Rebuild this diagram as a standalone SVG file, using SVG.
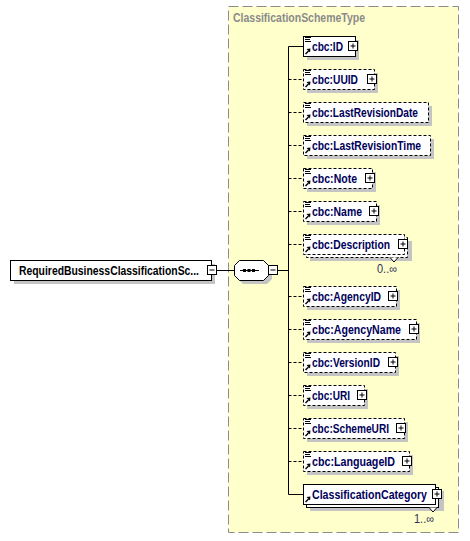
<svg xmlns="http://www.w3.org/2000/svg" xmlns:xlink="http://www.w3.org/1999/xlink" width="470" height="541" viewBox="0 0 470 541">
<style>
.bg{fill:#ffffcc;stroke:#8c8c8c;stroke-dasharray:10,4}
.title{font-family:'Liberation Sans',Arial,sans-serif;font-size:12px;font-weight:bold;fill:#8a8a8a}
.box{fill:#fff;stroke:#000}
.opt{stroke-dasharray:3,2}
.sh{fill:#c4c4c4}
.name{font-family:'Liberation Sans',Arial,sans-serif;font-size:12px;font-weight:bold;fill:#00005a}
.root{font-family:'Liberation Sans',Arial,sans-serif;font-size:12px;font-weight:bold;fill:#000}
.occ{font-family:'Liberation Sans',Arial,sans-serif;font-size:12px;fill:#30305a}
.conn{stroke:#000;fill:none}
.dash{stroke-dasharray:3,2}
</style>
<defs>
<g id="lines"><path d="M2,-8.5h6M2,-6.5h5M2,-4.5h6" stroke="#000" fill="none"/></g>
<g id="arrow"><path d="M2.5,8 L5.5,5" stroke="#000" stroke-width="1.4"/><path d="M7.5,2.5 L3.5,3 L7,6.5Z" fill="#000"/></g>
<g id="plus"><rect x="0.5" y="0.5" width="9" height="9" fill="#fff" stroke="#000"/><path d="M2.5,5h5M5,2.5v5" stroke="#000"/></g>
<g id="minus"><rect x="0.5" y="0.5" width="9" height="9" fill="#fff" stroke="#000"/><path d="M2.5,5h5" stroke="#000"/></g>
</defs>

<rect class="bg" x="228.5" y="6.5" width="230" height="526"/>
<text class="title" x="233" y="21.5" textLength="132" lengthAdjust="spacingAndGlyphs">ClassificationSchemeType</text>

<g id="connectors">
<path class="conn" d="M217,270.5 H234.5"/>
<path class="conn" d="M278,270.5 H288.5"/>
<path class="conn" d="M288.5,46.5 V494.5"/>
<path class="conn" d="M288.5,46.5 H303.5"/>
<path class="conn dash" d="M288.5,79.5 H303.5"/>
<path class="conn dash" d="M288.5,112.5 H303.5"/>
<path class="conn dash" d="M288.5,145.5 H303.5"/>
<path class="conn dash" d="M288.5,178.5 H303.5"/>
<path class="conn dash" d="M288.5,211.5 H303.5"/>
<path class="conn dash" d="M288.5,244.5 H303.5"/>
<path class="conn dash" d="M288.5,296.5 H303.5"/>
<path class="conn dash" d="M288.5,329.5 H303.5"/>
<path class="conn dash" d="M288.5,362.5 H303.5"/>
<path class="conn dash" d="M288.5,395.5 H303.5"/>
<path class="conn dash" d="M288.5,428.5 H303.5"/>
<path class="conn dash" d="M288.5,461.5 H303.5"/>
<path class="conn" d="M288.5,494.5 H303.5"/>
</g>

<g id="root">
<rect class="sh" x="14" y="264" width="201" height="20"/>
<rect class="box" x="10.5" y="260.5" width="201" height="20"/>
<text class="root" x="19" y="275" textLength="180" lengthAdjust="spacingAndGlyphs">RequiredBusinessClassificationSc...</text>
<use xlink:href="#minus" x="207" y="265"/>
</g>

<g id="sequence">
<path class="sh" d="M243,264 H267 L272,269 V279 L267,284 H243 L238,279 V269 Z"/>
<path class="box" d="M239.5,260.5 H263.5 L268.5,265.5 V275.5 L263.5,280.5 H239.5 L234.5,275.5 V265.5 Z"/>
<path d="M240,270.5 H259" stroke="#000"/>
<rect x="243" y="269" width="3" height="3" fill="#000"/>
<rect x="247.5" y="269" width="3" height="3" fill="#000"/>
<rect x="252" y="269" width="3" height="3" fill="#000"/>
<use xlink:href="#minus" x="268" y="265"/>
</g>

<g id="n-ID">
<rect class="sh" x="307" y="40" width="52" height="20"/>
<rect class="box" x="303.5" y="36.5" width="52" height="20"/>
<use xlink:href="#lines" x="303" y="46"/><use xlink:href="#arrow" x="303" y="46"/>
<text class="name" x="312" y="51" textLength="31" lengthAdjust="spacingAndGlyphs">cbc:ID</text>
<use xlink:href="#plus" x="348" y="41"/>
</g>

<g id="n-UUID">
<rect class="sh" x="307" y="73" width="71" height="20"/>
<rect class="box opt" x="303.5" y="69.5" width="71" height="20"/>
<use xlink:href="#lines" x="303" y="79"/><use xlink:href="#arrow" x="303" y="79"/>
<text class="name" x="312" y="84" textLength="46" lengthAdjust="spacingAndGlyphs">cbc:UUID</text>
<use xlink:href="#plus" x="367" y="74"/>
</g>

<g id="n-LastRevisionDate">
<rect class="sh" x="307" y="106" width="125" height="20"/>
<rect class="box opt" x="303.5" y="102.5" width="125" height="20"/>
<use xlink:href="#lines" x="303" y="112"/><use xlink:href="#arrow" x="303" y="112"/>
<text class="name" x="312" y="117" textLength="106" lengthAdjust="spacingAndGlyphs">cbc:LastRevisionDate</text>
</g>

<g id="n-LastRevisionTime">
<rect class="sh" x="307" y="139" width="127" height="20"/>
<rect class="box opt" x="303.5" y="135.5" width="127" height="20"/>
<use xlink:href="#lines" x="303" y="145"/><use xlink:href="#arrow" x="303" y="145"/>
<text class="name" x="312" y="150" textLength="109" lengthAdjust="spacingAndGlyphs">cbc:LastRevisionTime</text>
</g>

<g id="n-Note">
<rect class="sh" x="307" y="172" width="69" height="20"/>
<rect class="box opt" x="303.5" y="168.5" width="69" height="20"/>
<use xlink:href="#lines" x="303" y="178"/><use xlink:href="#arrow" x="303" y="178"/>
<text class="name" x="312" y="183" textLength="45" lengthAdjust="spacingAndGlyphs">cbc:Note</text>
<use xlink:href="#plus" x="365" y="173"/>
</g>

<g id="n-Name">
<rect class="sh" x="307" y="205" width="73" height="20"/>
<rect class="box opt" x="303.5" y="201.5" width="73" height="20"/>
<use xlink:href="#lines" x="303" y="211"/><use xlink:href="#arrow" x="303" y="211"/>
<text class="name" x="312" y="216" textLength="50" lengthAdjust="spacingAndGlyphs">cbc:Name</text>
<use xlink:href="#plus" x="369" y="206"/>
</g>

<g id="n-Description">
<rect class="sh" x="310" y="241" width="102" height="20"/>
<rect class="box opt" x="306.5" y="237.5" width="101" height="20"/>
<path d="M390,257.5 L394,262 L398,257.5" fill="#fff" stroke="#000"/>
<rect class="box opt" x="303.5" y="234.5" width="101" height="20"/>
<use xlink:href="#lines" x="303" y="244"/><use xlink:href="#arrow" x="303" y="244"/>
<text class="name" x="312" y="249" textLength="78" lengthAdjust="spacingAndGlyphs">cbc:Description</text>
<use xlink:href="#plus" x="398" y="239"/>
<text class="occ" x="377" y="272.5" textLength="20" lengthAdjust="spacingAndGlyphs">0..∞</text>
</g>

<g id="n-AgencyID">
<rect class="sh" x="307" y="290" width="93" height="20"/>
<rect class="box opt" x="303.5" y="286.5" width="93" height="20"/>
<use xlink:href="#lines" x="303" y="296"/><use xlink:href="#arrow" x="303" y="296"/>
<text class="name" x="312" y="301" textLength="69" lengthAdjust="spacingAndGlyphs">cbc:AgencyID</text>
<use xlink:href="#plus" x="388" y="291"/>
</g>

<g id="n-AgencyName">
<rect class="sh" x="307" y="323" width="113" height="20"/>
<rect class="box opt" x="303.5" y="319.5" width="113" height="20"/>
<use xlink:href="#lines" x="303" y="329"/><use xlink:href="#arrow" x="303" y="329"/>
<text class="name" x="312" y="334" textLength="89" lengthAdjust="spacingAndGlyphs">cbc:AgencyName</text>
<use xlink:href="#plus" x="409" y="324"/>
</g>

<g id="n-VersionID">
<rect class="sh" x="307" y="356" width="92" height="20"/>
<rect class="box opt" x="303.5" y="352.5" width="92" height="20"/>
<use xlink:href="#lines" x="303" y="362"/><use xlink:href="#arrow" x="303" y="362"/>
<text class="name" x="312" y="367" textLength="68" lengthAdjust="spacingAndGlyphs">cbc:VersionID</text>
<use xlink:href="#plus" x="388" y="357"/>
</g>

<g id="n-URI">
<rect class="sh" x="307" y="389" width="61" height="20"/>
<rect class="box opt" x="303.5" y="385.5" width="61" height="20"/>
<use xlink:href="#lines" x="303" y="395"/><use xlink:href="#arrow" x="303" y="395"/>
<text class="name" x="312" y="400" textLength="38" lengthAdjust="spacingAndGlyphs">cbc:URI</text>
<use xlink:href="#plus" x="357" y="390"/>
</g>

<g id="n-SchemeURI">
<rect class="sh" x="307" y="422" width="101" height="20"/>
<rect class="box opt" x="303.5" y="418.5" width="101" height="20"/>
<use xlink:href="#lines" x="303" y="428"/><use xlink:href="#arrow" x="303" y="428"/>
<text class="name" x="312" y="433" textLength="77" lengthAdjust="spacingAndGlyphs">cbc:SchemeURI</text>
<use xlink:href="#plus" x="396" y="423"/>
</g>

<g id="n-LanguageID">
<rect class="sh" x="307" y="455" width="106" height="20"/>
<rect class="box opt" x="303.5" y="451.5" width="106" height="20"/>
<use xlink:href="#lines" x="303" y="461"/><use xlink:href="#arrow" x="303" y="461"/>
<text class="name" x="312" y="466" textLength="83" lengthAdjust="spacingAndGlyphs">cbc:LanguageID</text>
<use xlink:href="#plus" x="402" y="456"/>
</g>

<g id="n-ClassificationCategory">
<rect class="sh" x="310" y="491" width="134" height="20"/>
<rect class="box" x="306.5" y="487.5" width="132" height="20"/>
<path d="M429,507.5 L433,512 L437,507.5" fill="#fff" stroke="#000"/>
<rect class="box" x="303.5" y="484.5" width="132" height="20"/>
<use xlink:href="#arrow" x="303" y="494"/>
<text class="name" x="312" y="499" textLength="115" lengthAdjust="spacingAndGlyphs">ClassificationCategory</text>
<use xlink:href="#plus" x="432" y="489"/>
<text class="occ" x="414" y="522.5" textLength="20" lengthAdjust="spacingAndGlyphs">1..∞</text>
</g>
</svg>
